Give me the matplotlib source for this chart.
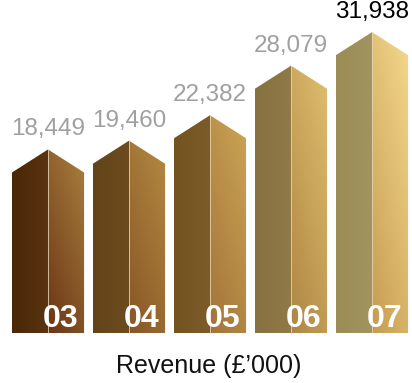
import numpy as np
import matplotlib
matplotlib.use('Agg')
import matplotlib.pyplot as plt
from matplotlib.colors import LinearSegmentedColormap
from matplotlib.patches import Polygon

# Выручка по годам (тыс. фунтов)
years = ['03', '04', '05', '06', '07']
revenue = [18449, 19460, 22382, 28079, 31938]

# Цвета граней: левая (тень) и правая (освещённая, градиент снизу-слева вверх-вправо)
left_dark = ['#4a2706', '#634419', '#735420', '#887140', '#9c8d56']
left_light = ['#5a3412', '#6c4c1f', '#7c5c2a', '#907a48', '#a29460']
right_dark = ['#6a3516', '#875626', '#a2743a', '#ae8644', '#c69c52']
right_light = ['#a9803e', '#b48a42', '#cca555', '#e0be6e', '#f4d98c']
label_colors = ['#a0a0a0', '#a0a0a0', '#a0a0a0', '#a0a0a0', '#000000']

roof = 2650        # высота "крыши" над боковыми гранями
half_w = 0.445     # половина ширины столбика

fig = plt.figure(figsize=(4.12, 3.83), dpi=100)
ax = fig.add_axes([0, 0, 1, 1])
ax.set_xlim(-0.593, 4.494)
ax.set_ylim(-5750, 38280)
ax.axis('off')

grid = np.linspace(0, 1, 64)
uu, vv = np.meshgrid(grid, grid)

for i, val in enumerate(revenue):
    xl, xc, xr = i - half_w, i, i + half_w
    peak = val + roof

    # левая грань
    left_poly = Polygon([(xl, 0), (xl, val), (xc, peak), (xc, 0)], closed=True,
                        facecolor='none', edgecolor='none')
    ax.add_patch(left_poly)
    cmap_l = LinearSegmentedColormap.from_list('l%d' % i, [left_dark[i], left_light[i]])
    im = ax.imshow(uu, extent=[xl, xc, 0, peak], origin='lower', cmap=cmap_l,
                   aspect='auto', interpolation='bilinear', vmin=0, vmax=1)
    im.set_clip_path(left_poly)

    # правая грань
    right_poly = Polygon([(xc, 0), (xc, peak), (xr, val), (xr, 0)], closed=True,
                         facecolor='none', edgecolor='none')
    ax.add_patch(right_poly)
    cmap_r = LinearSegmentedColormap.from_list('r%d' % i, [right_dark[i], right_light[i]])
    im = ax.imshow((uu * 0.6 + vv) / 1.6, extent=[xc, xr, 0, peak], origin='lower',
                   cmap=cmap_r, aspect='auto', interpolation='bilinear', vmin=0, vmax=1)
    im.set_clip_path(right_poly)

    # светлое ребро между гранями
    ax.plot([xc, xc], [0, peak], color='#e8d8b8', lw=0.7, alpha=0.8)

    # подпись значения
    ax.text(xc, peak + 2300, f'{val:,}', ha='center', va='center', fontsize=17.5,
            color=label_colors[i], family='Liberation Sans')

    # год
    ax.text(xr - 0.07, 650, years[i], ha='right', va='baseline', fontsize=23,
            color='white', fontweight='bold', family='Liberation Sans')

fig.text(209 / 412, 1 - 366 / 383, 'Revenue (£\u2019000)', ha='center', va='center',
         fontsize=18, color='#111111', family='Liberation Sans')

fig.savefig('out.png', dpi=100)
